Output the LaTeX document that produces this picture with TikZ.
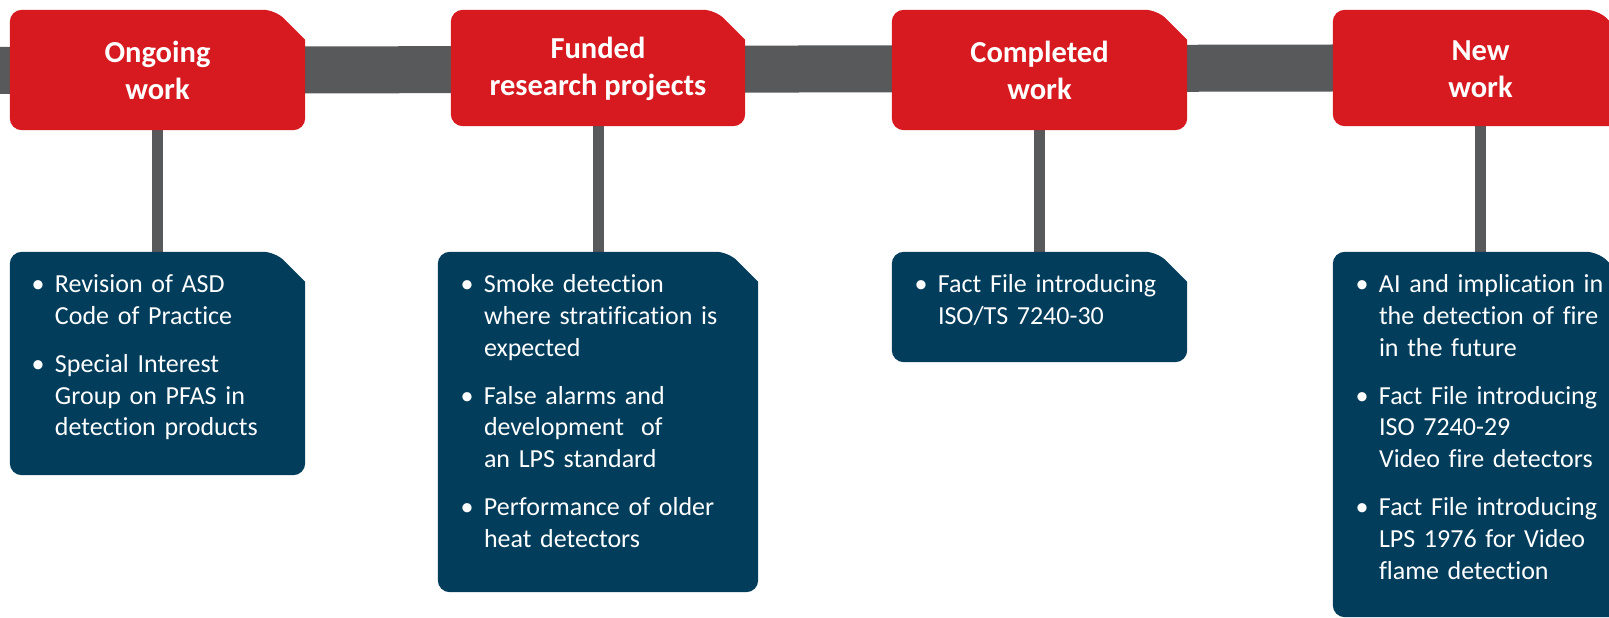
\documentclass[tikz,border=0pt]{standalone}
\usepackage{fontspec}
\setmainfont[Ligatures={NoCommon}]{Carlito}
\usetikzlibrary{backgrounds}
\definecolor{hdred}{RGB}{215,25,32}
\definecolor{bargray}{RGB}{88,89,91}
\definecolor{boxblue}{RGB}{2,61,91}
\newcommand{\bitem}[1]{\setlength{\parindent}{0pt}\noindent\llap{\textbullet\hspace{10.5bp}}#1\par}
\newcommand{\itemgap}{\vspace{16.3bp}}
\newcommand{\hstrut}{\rule{0pt}{23bp}}
\newcommand{\tagshape}[2]{%
  \fill[#2] (#1.west) [rounded corners=12bp] -- (#1.north west)
    -- ([xshift=-30bp]#1.north east) [sharp corners]
    -- ([yshift=-30bp]#1.north east) [rounded corners=12bp]
    -- (#1.south east) -- (#1.south west) -- cycle;}
\tikzset{
  header/.style={draw=none, inner sep=0pt, text=white, align=center,
    font=\bfseries\fontsize{30.5bp}{37bp}\selectfont},
  infobox/.style={draw=none, inner sep=0pt},
  listtext/.style={anchor=base west, inner sep=0pt, text=white, align=left,
    text width=270bp, font=\fontsize{26bp}{31.7bp}\selectfont},
  stem/.style={draw=bargray, line width=11bp},
  timebar/.style={draw=bargray, line width=47bp},
}
\begin{document}
\begin{tikzpicture}[x=1bp, y=-1bp]
\useasboundingbox (0,0) rectangle (1609,618);
\clip (0,0) rectangle (1609,618);
% headers
\node[header, minimum width=295bp, minimum height=120bp] (h1) at (157.5,70) {\hstrut Ongoing\\work};
\node[header, minimum width=294bp, minimum height=116bp] (h2) at (598,68) {\hstrut Funded\\research projects};
\node[header, minimum width=295bp, minimum height=120bp] (h3) at (1039.5,70) {\hstrut Completed\\work};
\node[header, minimum width=295bp, minimum height=116bp] (h4) at (1480.5,68) {\hstrut New\\work};
% boxes
\node[infobox, minimum width=295bp, minimum height=223bp] (b1) at (157.5,363.5) {};
\node[infobox, minimum width=320bp, minimum height=340bp] (b2) at (598,422) {};
\node[infobox, minimum width=295bp, minimum height=110bp] (b3) at (1039.5,307) {};
\node[infobox, minimum width=295bp, minimum height=365bp] (b4) at (1480.5,434.5) {};
\coordinate (barstart) at (0,70.5);
% texts
\node[listtext] (l1) at ([xshift=45bp, yshift=-41bp]b1.north west) {%
\bitem{Revision of ASD\\Code of Practice}\itemgap
\bitem{Special Interest\\Group on PFAS in\\detection products}};
\node[listtext] (l2) at ([xshift=46bp, yshift=-41bp]b2.north west) {%
\bitem{Smoke detection\\\makebox[234bp][s]{where stratification is}\\expected}\itemgap
\bitem{False alarms and\\development\hspace{17bp}of\\an LPS standard}\itemgap
\bitem{\makebox[229bp][s]{Performance of older}\\heat detectors}};
\node[listtext] (l3) at ([xshift=46bp, yshift=-41bp]b3.north west) {%
\bitem{Fact File introducing\\ISO/TS 7240-30}};
\node[listtext] (l4) at ([xshift=46bp, yshift=-41bp]b4.north west) {%
\bitem{AI and implication in\\the detection of fire\\in the future}\itemgap
\bitem{Fact File introducing\\ISO 7240-29\\Video fire detectors}\itemgap
\bitem{Fact File introducing\\LPS 1976 for Video\\flame detection}};
\begin{pgfonlayer}{background}
\clip (0,0) rectangle (1609,618);
\draw[timebar] (barstart) -- (h4.west);
\draw[stem] (h1.south) -- (b1.north);
\draw[stem] (h2.south) -- (b2.north);
\draw[stem] (h3.south) -- (b3.north);
\draw[stem] (h4.south) -- (b4.north);
\tagshape{h1}{hdred}
\tagshape{h2}{hdred}
\tagshape{h3}{hdred}
\tagshape{h4}{hdred}
\tagshape{b1}{boxblue}
\tagshape{b2}{boxblue}
\tagshape{b3}{boxblue}
\tagshape{b4}{boxblue}
\end{pgfonlayer}
\end{tikzpicture}
\end{document}
